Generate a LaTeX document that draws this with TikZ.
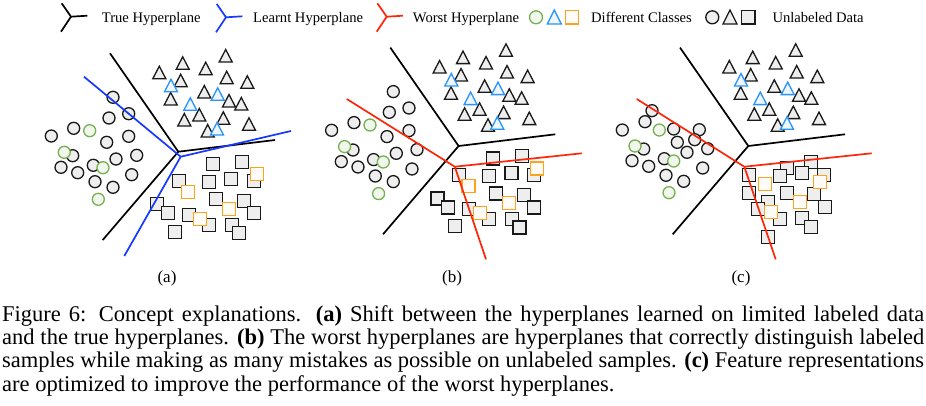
\documentclass[tikz,border=0pt]{standalone}
\usepackage{fontspec}
\setmainfont{Liberation Serif}
\usepackage{tikz}
\usetikzlibrary{calc}
\definecolor{hpblue}{RGB}{22,56,255}
\definecolor{hpred}{RGB}{255,38,8}
\definecolor{clsgreen}{RGB}{118,176,80}
\definecolor{clsblue}{RGB}{42,148,250}
\definecolor{clsorange}{RGB}{255,162,32}
\definecolor{ptfill}{RGB}{238,238,238}
\newcommand{\trigray}{225.7/56, 182.7/63.3, 159.3/72.7, 205.7/68.7, 180.7/80.7, 226.7/77.7, 247.3/82.3, 204.3/92,
  170.7/99, 229/101, 241.3/104, 199.3/115, 184.3/120, 223.3/118.3, 249/124.3, 207.7/131}
\newcommand{\triblue}{171/85.7, 217.7/94.3, 190.3/104.3, 217/129}
\newcommand{\circgray}{113/97.3, 128.7/113.7, 109/118, 73.7/128.3, 51.3/136, 106.7/142.3, 128.7/136.3, 72.7/155.7,
  136.7/155.3, 116/159, 61/167.3, 77.7/172.7, 93.3/165.3, 131.7/174.7, 95/181.7, 113/187.3}
\newcommand{\circgreen}{89.7/130.7, 64.3/152.3, 103/167.7, 98.3/199.3}
\newcommand{\sqgray}{213/164.3, 241.7/162, 178.7/181, 209/181.7, 231.3/179, 254/181, 215.7/199.3, 243.7/200.7,
  157.3/204.3, 167.7/213.3, 188.7/215, 209/225, 254/213.3, 231.7/225, 239.3/233.3, 174.7/231.7}
\newcommand{\sqorange}{257/174.3, 188.3/191.7, 229/208.7, 200/219}
\newcommand{\circgrayc}{82/116.4, 75/127.4, 52.3/135.7, 103.7/134.7, 129.3/135.4, 73.7/154.7, 107.3/148, 124.7/145.4,
  137.7/154.4, 117/158, 62/166.4, 78.7/172, 94.3/164.4, 132.7/173.7, 96/181, 113.7/187}
\newcommand{\circgreenc}{89.3/135.7, 65/151.7, 103.7/166.7, 99/198.4}
\newcommand{\sqgrayc}{241/167.7, 217.3/173.7, 232.3/178.4, 179.3/180.4, 210/181.7, 254.3/180.4, 179/198.7, 217/198.4,
  244/200, 197.7/207.4, 188.3/214.4, 255/213, 210/224.4, 231.7/224, 240.7/233, 197.7/243}
\newcommand{\sqorangec}{250/187.4, 195/189.7, 230/207.7, 200.7/218}
\newcommand{\drawpoints}[4]{%
  \foreach \x/\y in #1 {\draw[unl] (\x,\y) circle[radius=6pt];}
  \foreach \x/\y in \trigray {\draw[unl] (\x,\y-6.5) -- (\x+6.5,\y+6) -- (\x-6.5,\y+6) -- cycle;}
  \foreach \x/\y in #3 {\draw[unl] (\x-6.5,\y-6.5) rectangle (\x+6.5,\y+6.5);}
  \foreach \x/\y in #2 {\draw[clsg] (\x,\y) circle[radius=6pt];}
  \foreach \x/\y in \triblue {\draw[clsb] (\x,\y-6.5) -- (\x+6.5,\y+6) -- (\x-6.5,\y+6) -- cycle;}
  \foreach \x/\y in #4 {\draw[clso] (\x-6.5,\y-6.5) rectangle (\x+6.5,\y+6.5);}
}
\begin{document}
\begin{tikzpicture}[x=1pt, y=-1pt,
  unl/.style={draw=black!90, fill=ptfill, line width=1.3pt},
  clsg/.style={draw=clsgreen, fill=clsgreen!10, line width=1.3pt},
  clsb/.style={draw=clsblue, fill=clsblue!8, line width=1.3pt},
  clso/.style={draw=clsorange, fill=clsorange!4, line width=1.3pt},
  hp/.style={line width=1.7pt},
  lgd/.style={anchor=base west, inner sep=0pt, font=\fontsize{14.6}{17}\selectfont},
  sublabel/.style={anchor=base, inner sep=0pt, font=\fontsize{17}{20}\selectfont}
]
\fill[white] (0,0) rectangle (926,405);
\useasboundingbox (0,0) rectangle (926,405);

% legend
\coordinate (gtrue) at (71,16.7);
\coordinate (glearnt) at (226,17.3);
\coordinate (gworst) at (386.7,16.7);
\draw[hp] (gtrue) -- ++(-9.3,-13.4) (gtrue) -- ++(16.3,-1) (gtrue) -- ++(-10,15);
\draw[hp, hpblue] (glearnt) -- ++(-9.3,-13.4) (glearnt) -- ++(16.3,-1) (glearnt) -- ++(-10,15);
\draw[hp, hpred] (gworst) -- ++(-9.3,-13.4) (gworst) -- ++(16.3,-1) (gworst) -- ++(-10,15);
\node[lgd] (ltrue) at (101.7,22.5) {True Hyperplane};
\node[lgd] (llearnt) at (253,22.5) {Learnt Hyperplane};
\node[lgd] (lworst) at (412.7,22.5) {Worst Hyperplane};
\draw[clsg] (536,17.3) circle[radius=6.5pt];
\draw[clsb] (554.3,10) -- (561.3,24) -- (547.3,24) -- cycle;
\draw[clso] (565.2,10.5) rectangle (578.8,24.1);
\node[lgd] (lclass) at (591,22.5) {Different Classes};
\draw[unl] (712.3,17.3) circle[radius=6.5pt];
\draw[unl] (730,10) -- (737,24) -- (723,24) -- cycle;
\draw[unl] (741.5,10.5) rectangle (755.1,24.1);
\node[lgd] (lunl) at (772.3,22.5) {Unlabeled Data};

% (a)
\drawpoints{\circgray}{\circgreen}{\sqgray}{\sqorange}
\coordinate (ta) at (178.3,151.7);
\coordinate (la) at (180.7,156.7);
\draw[hp] (ta) -- ++(-68.3,-98.4) (ta) -- ++(96.7,-11.7) (ta) -- ++(-75.6,88.3);
\draw[hp, hpblue] (la) -- ++(-96.7,-80) (la) -- ++(110.3,-25.7) (la) -- ++(-56.4,99.3);
\node[sublabel] (suba) at (167,282) {(a)};

% (b)
\begin{scope}[shift={(280.3,-5.7)}]
\drawpoints{\circgray}{\circgreen}{\sqgray}{\sqorange}
\coordinate (tb) at (178.3,151.7);
\coordinate (wb) at (174.5,172.4);
\draw[hp] (tb) -- ++(-68.3,-98.4) (tb) -- ++(96.7,-11.7) (tb) -- ++(-75.6,88.3);
\draw[hp, hpred] (wb) -- ++(-108,-67.7) (wb) -- ++(127,-13.4) (wb) -- ++(31.2,92.6);
\end{scope}
\node[sublabel] (subb) at (452,282) {(b)};

% (c)
\begin{scope}[shift={(570,-5.7)}]
\drawpoints{\circgrayc}{\circgreenc}{\sqgrayc}{\sqorangec}
\coordinate (tc) at (178.3,151.7);
\coordinate (wc) at (174.3,172.4);
\draw[hp] (tc) -- ++(-68.3,-98.4) (tc) -- ++(96.7,-11.7) (tc) -- ++(-75.6,88.3);
\draw[hp, hpred] (wc) -- ++(-107.6,-67.7) (wc) -- ++(127.4,-13.4) (wc) -- ++(31.4,92.6);
\end{scope}
\node[sublabel] (subc) at (741,282) {(c)};

\node[anchor=north west, inner sep=0pt, text width=922pt, align=justify,
  font=\fontsize{22.5}{23.4}\selectfont] (caption) at (2,305)
  {Figure 6: Concept explanations. \textbf{(a)} Shift between the hyperplanes learned on limited labeled data\linebreak
   and the true hyperplanes. \textbf{(b)} The worst hyperplanes are hyperplanes that correctly distinguish labeled\linebreak
   samples while making as many mistakes as possible on unlabeled samples. \textbf{(c)} Feature representations\linebreak
   are optimized to improve the performance of the worst hyperplanes.};
\end{tikzpicture}
\end{document}
